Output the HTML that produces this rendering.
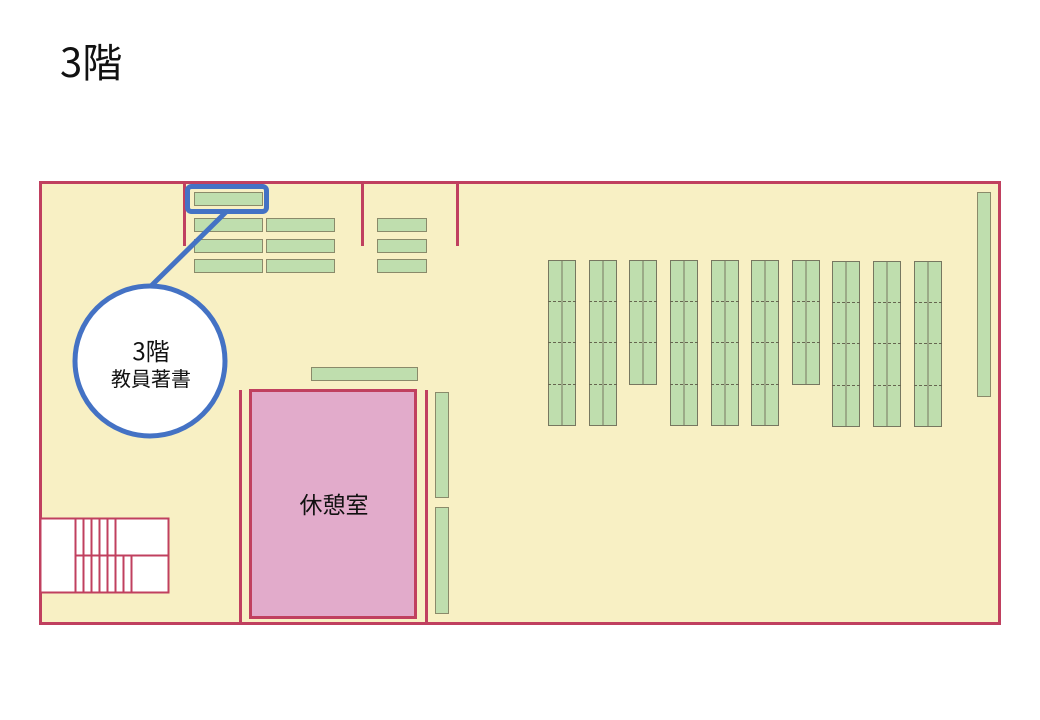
<!DOCTYPE html>
<html><head><meta charset="utf-8"><style>
html,body{margin:0;padding:0;background:#fff;}
svg{display:block}
text{font-family:"Noto Sans CJK JP","Liberation Sans",sans-serif;fill:#111}
</style></head><body>
<svg width="1040" height="720" viewBox="0 0 1040 720" xmlns="http://www.w3.org/2000/svg">
<rect width="1040" height="720" fill="#fff"/>
<text x="60" y="77" font-size="40">3階</text>
<rect x="40.5" y="182.5" width="959" height="441" fill="#f8f0c4" stroke="#c0405f" stroke-width="3"/>
<g stroke="#c0405f" stroke-width="3">
<line x1="184.5" y1="182" x2="184.5" y2="246"/>
<line x1="362.5" y1="182" x2="362.5" y2="246"/>
<line x1="457.5" y1="182" x2="457.5" y2="246"/>
<line x1="240.5" y1="390" x2="240.5" y2="624"/>
<line x1="426.5" y1="390" x2="426.5" y2="624"/>
</g>
<g fill="#bfdeae" stroke="#8a8a6a" stroke-width="1">
<rect x="194.5" y="192.5" width="68" height="13"/>
<rect x="194.5" y="218.5" width="68" height="13"/><rect x="266.5" y="218.5" width="68" height="13"/><rect x="377.5" y="218.5" width="49" height="13"/>
<rect x="194.5" y="239.5" width="68" height="13"/><rect x="266.5" y="239.5" width="68" height="13"/><rect x="377.5" y="239.5" width="49" height="13"/>
<rect x="194.5" y="259.5" width="68" height="13"/><rect x="266.5" y="259.5" width="68" height="13"/><rect x="377.5" y="259.5" width="49" height="13"/>
<rect x="311.5" y="367.5" width="106" height="13"/>
<rect x="435.5" y="392.5" width="13" height="105"/>
<rect x="435.5" y="507.5" width="13" height="106"/>
<rect x="977.5" y="192.5" width="13" height="204"/>
</g>
<g stroke="#777760" stroke-width="1" fill="#bfdeae">
<rect x="548.5" y="260.5" width="27" height="165"/><line x1="562" y1="260" x2="562" y2="425"/>
<rect x="589.5" y="260.5" width="27" height="165"/><line x1="603" y1="260" x2="603" y2="425"/>
<rect x="629.5" y="260.5" width="27" height="124"/><line x1="643" y1="260" x2="643" y2="384"/>
<rect x="670.5" y="260.5" width="27" height="165"/><line x1="684" y1="260" x2="684" y2="425"/>
<rect x="711.5" y="260.5" width="27" height="165"/><line x1="725" y1="260" x2="725" y2="425"/>
<rect x="751.5" y="260.5" width="27" height="165"/><line x1="765" y1="260" x2="765" y2="425"/>
<rect x="792.5" y="260.5" width="27" height="124"/><line x1="806" y1="260" x2="806" y2="384"/>
<rect x="832.5" y="261.5" width="27" height="165"/><line x1="846" y1="261" x2="846" y2="426"/>
<rect x="873.5" y="261.5" width="27" height="165"/><line x1="887" y1="261" x2="887" y2="426"/>
<rect x="914.5" y="261.5" width="27" height="165"/><line x1="928" y1="261" x2="928" y2="426"/>
</g>
<g stroke="#666650" stroke-width="1" stroke-dasharray="3,2">
<path d="M548 301.5h28M548 342.5h28M548 384.5h28 M589 301.5h28M589 342.5h28M589 384.5h28 M629 301.5h28M629 342.5h28 M670 301.5h28M670 342.5h28M670 384.5h28 M711 301.5h28M711 342.5h28M711 384.5h28 M751 301.5h28M751 342.5h28M751 384.5h28 M792 301.5h28M792 342.5h28 M832 302.5h28M832 343.5h28M832 385.5h28 M873 302.5h28M873 343.5h28M873 385.5h28 M914 302.5h28M914 343.5h28M914 385.5h28"/>
</g>
<rect x="250.5" y="390.5" width="165" height="227" fill="#e2abcb" stroke="#c0405f" stroke-width="3"/>
<text x="334" y="513" font-size="23" text-anchor="middle">休憩室</text>
<g stroke="#c0405f" stroke-width="2" fill="#fff">
<rect x="40.5" y="518.5" width="128" height="74"/>
<line x1="75" y1="555.5" x2="169" y2="555.5"/>
<path d="M75.5 518v74M83.5 518v74M91.5 518v74M99.5 518v74M107.5 518v74M115.5 518v74M123.5 555v37M131.5 555v37"/>
</g>
<rect x="187.5" y="186.5" width="79" height="25" rx="4" fill="none" stroke="#4472c4" stroke-width="5"/>
<line x1="227" y1="211" x2="150" y2="287" stroke="#4472c4" stroke-width="5"/>
<circle cx="150" cy="361" r="75" fill="#fff" stroke="#4472c4" stroke-width="5"/>
<text x="151" y="360" font-size="24" text-anchor="middle">3階</text>
<text x="151" y="386" font-size="20" text-anchor="middle">教員著書</text>
</svg>
</body></html>
